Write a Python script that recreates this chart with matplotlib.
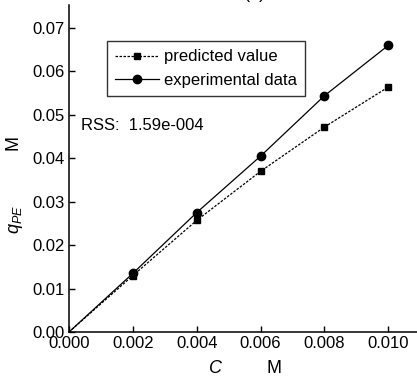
import matplotlib
matplotlib.use("Agg")
import matplotlib.pyplot as plt

plt.rcParams["font.family"] = ["Liberation Sans", "DejaVu Sans"]
plt.rcParams["mathtext.fontset"] = "custom"
plt.rcParams["mathtext.it"] = "Liberation Sans:italic"
plt.rcParams["mathtext.rm"] = "Liberation Sans"

# concentration C (M) and q_PE (M)
conc = [0.0, 0.002, 0.004, 0.006, 0.008, 0.010]
predicted = [0.0, 0.0130, 0.0257, 0.0370, 0.0472, 0.0564]
experimental = [0.0, 0.0135, 0.0275, 0.0405, 0.0544, 0.0660]
x_ticks = [0.000, 0.002, 0.004, 0.006, 0.008, 0.010]
y_ticks = [0.00, 0.01, 0.02, 0.03, 0.04, 0.05, 0.06, 0.07]

fig = plt.figure(figsize=(4.17, 3.79), dpi=100)
ax = fig.add_axes([69 / 417, 1 - 332 / 379, (417 - 69) / 417, (332 - 5) / 379])

ax.plot(conc, predicted, color="black", linestyle=(0, (2, 1.2)), linewidth=0.9,
        marker="s", markersize=5, markevery=list(range(1, len(conc))),
        label="predicted value")
ax.plot(conc, experimental, color="black", linestyle="-", linewidth=0.9,
        marker="o", markersize=6, markevery=list(range(1, len(conc))),
        label="experimental data")

ax.set_xlim(0, 0.0109)
ax.set_ylim(0, 0.0753)
ax.set_xticks(x_ticks)
ax.set_xticklabels([f"{v:.3f}" for v in x_ticks])
ax.set_yticks(y_ticks)
ax.set_yticklabels([f"{v:.2f}" for v in y_ticks])
ax.tick_params(direction="in", length=4, width=1, labelsize=12, pad=3)
for side in ("top", "right"):
    ax.spines[side].set_visible(False)
for side in ("left", "bottom"):
    ax.spines[side].set_linewidth(1.1)

ax.set_xlabel("$\\mathit{C}$         M", fontsize=13)
ax.xaxis.set_label_coords(0.506, -0.085)
ax.set_ylabel("$\\mathit{q}_{\\mathit{PE}}$           M", fontsize=13)
ax.yaxis.set_label_coords(-0.125, 0.45)

leg = ax.legend(loc="upper left", bbox_to_anchor=(0.085, 0.915), fontsize=12,
                frameon=True, fancybox=False, edgecolor="black",
                handlelength=2.6, handletextpad=0.3, borderpad=0.5,
                labelspacing=0.5)
leg.get_frame().set_linewidth(1.0)

ax.text(0.035, 0.633, "RSS:  1.59e-004", transform=ax.transAxes, fontsize=12,
        va="center", ha="left")

fig.text(255 / 417, 1 + 6 / 379, "(a)", fontsize=13, ha="center", va="center")

fig.savefig("out.png", dpi=100, facecolor="white")
